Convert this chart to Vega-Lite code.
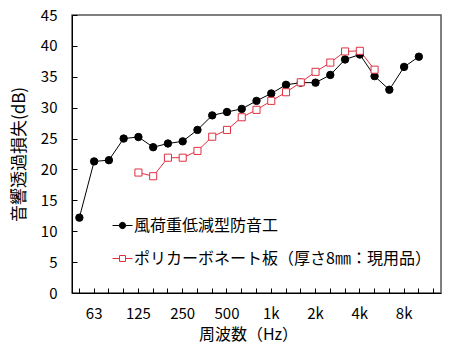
{
  "$schema": "https://vega.github.io/schema/vega-lite/v6.json",
  "width": 369,
  "height": 278,
  "autosize": {"type": "none"},
  "padding": {"left": 72, "top": 15, "right": 8, "bottom": 59},
  "background": "white",
  "config": {
    "view": {"stroke": "#555", "strokeWidth": 1.5},
    "font": "Noto Sans CJK JP",
    "axis": {"grid": false, "domainColor": "black", "tickColor": "black", "labelColor": "black", "titleColor": "black", "labelFont": "Noto Sans CJK JP", "titleFont": "Noto Sans CJK JP", "titleFontWeight": "normal"}
  },
  "data": {
    "values": [
      {"f": "50", "s": "風荷重低減型防音工", "v": 12.2},
      {"f": "63", "s": "風荷重低減型防音工", "v": 21.3},
      {"f": "80", "s": "風荷重低減型防音工", "v": 21.5},
      {"f": "100", "s": "風荷重低減型防音工", "v": 25.0},
      {"f": "125", "s": "風荷重低減型防音工", "v": 25.25},
      {"f": "160", "s": "風荷重低減型防音工", "v": 23.6},
      {"f": "200", "s": "風荷重低減型防音工", "v": 24.2},
      {"f": "250", "s": "風荷重低減型防音工", "v": 24.55},
      {"f": "315", "s": "風荷重低減型防音工", "v": 26.4},
      {"f": "400", "s": "風荷重低減型防音工", "v": 28.75},
      {"f": "500", "s": "風荷重低減型防音工", "v": 29.3},
      {"f": "630", "s": "風荷重低減型防音工", "v": 29.8},
      {"f": "800", "s": "風荷重低減型防音工", "v": 31.1},
      {"f": "1k", "s": "風荷重低減型防音工", "v": 32.3},
      {"f": "1.25k", "s": "風荷重低減型防音工", "v": 33.7},
      {"f": "1.6k", "s": "風荷重低減型防音工", "v": 34.05},
      {"f": "2k", "s": "風荷重低減型防音工", "v": 34.05},
      {"f": "2.5k", "s": "風荷重低減型防音工", "v": 35.3},
      {"f": "3.15k", "s": "風荷重低減型防音工", "v": 37.8},
      {"f": "4k", "s": "風荷重低減型防音工", "v": 38.6},
      {"f": "5k", "s": "風荷重低減型防音工", "v": 35.1},
      {"f": "6.3k", "s": "風荷重低減型防音工", "v": 32.9},
      {"f": "8k", "s": "風荷重低減型防音工", "v": 36.6},
      {"f": "10k", "s": "風荷重低減型防音工", "v": 38.25},
      {"f": "125", "s": "ポリカーボネート板（厚さ8㎜：現用品）", "v": 19.5},
      {"f": "160", "s": "ポリカーボネート板（厚さ8㎜：現用品）", "v": 18.9},
      {"f": "200", "s": "ポリカーボネート板（厚さ8㎜：現用品）", "v": 21.9},
      {"f": "250", "s": "ポリカーボネート板（厚さ8㎜：現用品）", "v": 21.9},
      {"f": "315", "s": "ポリカーボネート板（厚さ8㎜：現用品）", "v": 23.0},
      {"f": "400", "s": "ポリカーボネート板（厚さ8㎜：現用品）", "v": 25.3},
      {"f": "500", "s": "ポリカーボネート板（厚さ8㎜：現用品）", "v": 26.4},
      {"f": "630", "s": "ポリカーボネート板（厚さ8㎜：現用品）", "v": 28.45},
      {"f": "800", "s": "ポリカーボネート板（厚さ8㎜：現用品）", "v": 29.65},
      {"f": "1k", "s": "ポリカーボネート板（厚さ8㎜：現用品）", "v": 31.1},
      {"f": "1.25k", "s": "ポリカーボネート板（厚さ8㎜：現用品）", "v": 32.5},
      {"f": "1.6k", "s": "ポリカーボネート板（厚さ8㎜：現用品）", "v": 34.1},
      {"f": "2k", "s": "ポリカーボネート板（厚さ8㎜：現用品）", "v": 35.8},
      {"f": "2.5k", "s": "ポリカーボネート板（厚さ8㎜：現用品）", "v": 37.3},
      {"f": "3.15k", "s": "ポリカーボネート板（厚さ8㎜：現用品）", "v": 39.1},
      {"f": "4k", "s": "ポリカーボネート板（厚さ8㎜：現用品）", "v": 39.2},
      {"f": "5k", "s": "ポリカーボネート板（厚さ8㎜：現用品）", "v": 36.15}
    ]
  },
  "encoding": {
    "x": {
      "field": "f", "type": "ordinal", "sort": null,
      "scale": {"type": "band", "paddingInner": 0, "paddingOuter": 0, "domain": ["50","63","80","100","125","160","200","250","315","400","500","630","800","1k","1.25k","1.6k","2k","2.5k","3.15k","4k","5k","6.3k","8k","10k","12.5k"]},
      "axis": {
        "title": "周波数（Hz）", "titleFontSize": 16, "titlePadding": 5, "titleX": 176,
        "labelAngle": 0, "labelFontSize": 15, "labelPadding": 18, "tickSize": -5,
        "labelExpr": "indexof(['63','125','250','500','1k','2k','4k','8k'], datum.value) >= 0 ? datum.value : ''"
      }
    },
    "y": {
      "field": "v", "type": "quantitative",
      "scale": {"domain": [0, 45], "nice": false},
      "axis": {
        "title": "音響透過損失(dB)", "titleFontSize": 17, "titlePadding": 12,
        "values": [0,5,10,15,20,25,30,35,40,45], "labelFontSize": 15, "labelPadding": 20, "tickSize": -5
      }
    }
  },
  "layer": [
    {
      "mark": {"type": "line", "strokeWidth": 1},
      "encoding": {
        "stroke": {
          "field": "s", "type": "nominal",
          "scale": {"domain": ["風荷重低減型防音工", "ポリカーボネート板（厚さ8㎜：現用品）"], "range": ["black", "#e03040"]},
          "legend": {
            "orient": "none", "legendX": 40, "legendY": 200, "title": null,
            "padding": 0, "rowPadding": 14, "labelFontSize": 16, "labelLimit": 400, "labelOffset": 1,
            "symbolSize": 400, "symbolStrokeWidth": 1,
            "encode": {
              "symbols": {
                "update": {
                  "shape": {"signal": "datum.value === '風荷重低減型防音工' ? 'M-1,0H-0.32M0.32,0H1M0.32,0A0.32,0.32 0 1 1 -0.32,0A0.32,0.32 0 1 1 0.32,0Z' : 'M-1,0H-0.3M0.3,0H1M-0.3,-0.3H0.3V0.3H-0.3Z'"},
                  "fill": {"signal": "datum.value === '風荷重低減型防音工' ? 'black' : 'white'"}
                }
              }
            }
          }
        }
      }
    },
    {
      "transform": [{"filter": "datum.s === '風荷重低減型防音工'"}],
      "mark": {"type": "point", "shape": "circle", "filled": true, "size": 55, "fill": "black", "stroke": "black", "strokeWidth": 1, "opacity": 1}
    },
    {
      "transform": [{"filter": "datum.s !== '風荷重低減型防音工'"}],
      "mark": {"type": "point", "shape": "square", "filled": true, "size": 50, "fill": "white", "stroke": "#e03040", "strokeWidth": 1, "opacity": 1}
    }
  ]
}
